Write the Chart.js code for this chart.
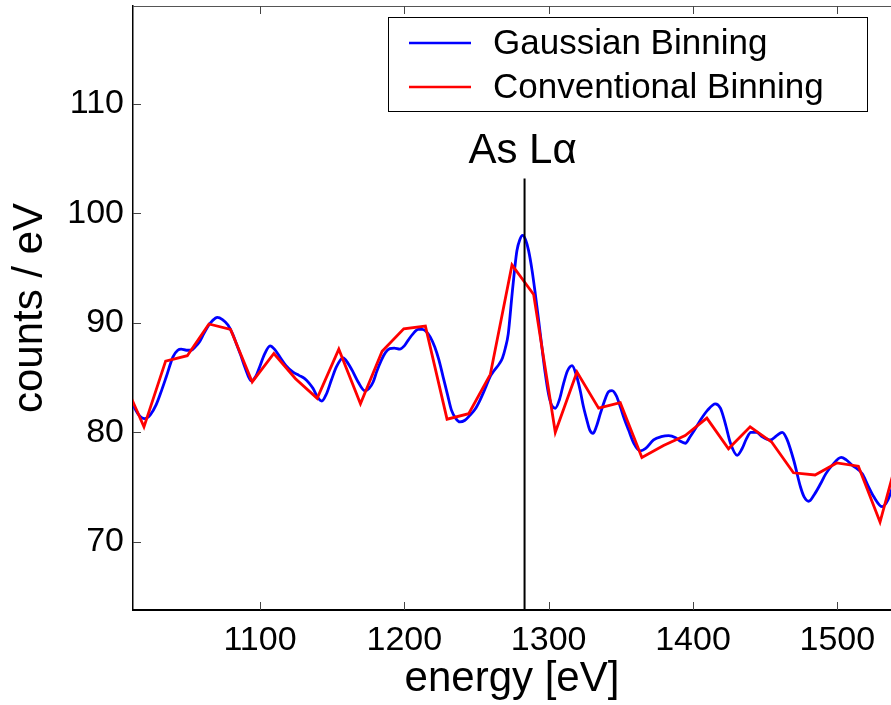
<!DOCTYPE html>
<html><head><meta charset="utf-8">
<script src="https://cdn.jsdelivr.net/npm/chart.js@4.4.0/dist/chart.umd.min.js"></script>
<style>html,body{margin:0;padding:0;background:#fff}#wrap{width:891px;height:705px;position:relative}</style>
</head><body><div id="wrap"><canvas id="c"></canvas></div>
<script>
const gaussEnergy = [1008,1012,1016,1020,1024,1028,1032,1035,1039.7,1043,1045.4,1049,1052.4,1055,1058,1061,1064,1067,1070.4,1074,1077.8,1081,1083.6,1086.5,1089.4,1094,1097,1099.8,1103,1107,1110,1113.7,1118,1122.9,1127,1131,1134,1136.8,1139.5,1142.8,1146,1149.4,1153,1157.6,1161,1164.5,1168,1172.6,1175.5,1178.4,1181,1184.1,1187,1189.9,1193,1196.9,1200,1202.6,1206,1209.6,1212.5,1215.3,1218,1221.1,1224,1226.9,1230,1232.7,1235.5,1238.5,1242,1245.4,1249,1252.3,1256,1259.3,1262,1266,1268,1270,1272,1274.5,1276.5,1278,1280,1281.9,1284,1286.1,1288.5,1290.7,1293,1295.3,1297.5,1299.9,1302,1304.6,1307.5,1310.3,1313,1316.2,1319,1321.9,1324,1326.5,1328.5,1330.7,1333,1335.8,1338.5,1341.5,1343.9,1347,1349.7,1352.5,1355.4,1359,1363.5,1367,1372.7,1378,1383.1,1388,1391,1394.7,1398,1401.5,1405.1,1410,1415.5,1419,1422.4,1426,1430.6,1434,1437,1440.1,1444,1448,1453.7,1458,1461.8,1465,1469.9,1474.5,1477,1480.2,1484,1488.4,1492,1496.5,1502.7,1506,1510.3,1517.3,1521,1525.3,1531.1,1535,1538,1542];
const gaussCounts = [83.5,82.5,81.6,81.25,81.6,82.5,83.9,85.05,86.9,87.5,87.6,87.5,87.5,87.8,88.25,89.0,89.7,90.2,90.5,90.3,89.8,89.0,88.1,87.1,86.0,84.7,85.1,86.0,87.1,87.9,87.6,86.9,86.1,85.5,85.2,84.9,84.5,84.0,83.3,82.86,83.5,84.75,86.0,86.8,86.3,85.5,84.6,83.8,84.0,84.6,85.6,86.6,87.3,87.65,87.7,87.6,87.9,88.4,89.0,89.4,89.4,89.2,88.7,87.8,86.6,85.05,83.4,82.0,81.3,80.95,81.1,81.55,82.1,82.9,84.0,85.05,85.6,86.3,86.8,87.7,89.0,92.4,95.0,96.6,97.6,98.0,97.6,96.6,94.8,92.7,90.3,87.8,85.5,83.5,82.5,82.2,83.0,84.45,85.6,86.1,85.3,83.8,82.4,81.1,80.2,79.9,80.5,81.7,82.8,83.7,83.8,83.3,82.3,81.2,80.2,79.0,78.3,78.5,79.3,79.6,79.7,79.5,79.2,79.0,79.6,80.3,81.1,82.0,82.6,82.2,80.8,79.0,77.9,78.5,79.4,80.0,80.0,79.6,79.3,79.7,80.0,79.4,77.4,75.0,74.1,73.7,74.3,75.3,76.2,77.0,77.7,77.5,77.0,76.2,75.2,74.1,73.2,73.8,74.9,76.5];
const convEnergy = [1004.6,1019.6,1034.6,1049.6,1064.6,1079.6,1094.6,1109.6,1124.6,1139.6,1154.6,1169.6,1184.6,1199.6,1214.6,1229.6,1244.6,1259.6,1274.6,1289.6,1304.6,1319.6,1334.6,1349.6,1364.6,1379.6,1394.6,1409.6,1424.6,1439.6,1454.6,1469.6,1484.6,1499.6,1514.6,1529.6,1544.6];
const convCounts = [85.0,80.5,86.5,87.0,89.9,89.4,84.6,87.2,84.9,83.1,87.6,82.6,87.4,89.45,89.7,81.2,81.7,85.3,95.3,92.6,80.0,85.5,82.2,82.7,77.7,78.8,79.7,81.3,78.5,80.5,79.1,76.3,76.1,77.2,76.9,71.8,79.1];
const lineEnergy = [1283.3, 1283.3];
const lineCounts = [103.2, 60];
const xTickValues = [1100,1200,1300,1400,1500];
const yTickValues = [70,80,90,100,110];
const seriesLabels = ['Gaussian Binning','Conventional Binning'];
const lineLabel = 'As L\u03b1';
const xTitle = 'energy [eV]';
const yTitle = 'counts / eV';

const FONT = '"Liberation Sans", Arial, Helvetica, sans-serif';
const toPts = (xs, ys) => xs.map((v, i) => ({x: v, y: ys[i]}));

const decor = {
  id: 'decor',
  afterDatasetsDraw(chart) {
    const {ctx, chartArea: a, scales: {x, y}} = chart;
    ctx.save();
    ctx.strokeStyle = '#555'; ctx.lineWidth = 1;
    ctx.beginPath(); ctx.moveTo(a.left, a.top + 0.5); ctx.lineTo(a.right, a.top + 0.5); ctx.stroke();
    ctx.strokeStyle = '#444';
    x.ticks.forEach(t => {
      const px = Math.round(x.getPixelForValue(t.value)) + 0.5;
      ctx.beginPath();
      ctx.moveTo(px, a.bottom); ctx.lineTo(px, a.bottom - 8);
      ctx.moveTo(px, a.top); ctx.lineTo(px, a.top + 8);
      ctx.stroke();
    });
    y.ticks.forEach(t => {
      const py = Math.round(y.getPixelForValue(t.value)) + 0.5;
      ctx.beginPath(); ctx.moveTo(a.left, py); ctx.lineTo(a.left + 8, py); ctx.stroke();
    });
    const lx = x.getPixelForValue(lineEnergy[0]);
    const ly = y.getPixelForValue(lineCounts[0]);
    ctx.fillStyle = '#000'; ctx.font = '42px ' + FONT;
    ctx.textAlign = 'center'; ctx.textBaseline = 'alphabetic';
    ctx.fillText(lineLabel, lx - 2, ly - 15);
    ctx.restore();
  },
  afterDraw(chart) {
    const {ctx, chartArea: a} = chart;
    const bx = a.left + 255, by = a.top + 11, bw = 479, bh = 94;
    ctx.save();
    ctx.fillStyle = '#fff'; ctx.fillRect(bx, by, bw, bh);
    ctx.strokeStyle = '#000'; ctx.lineWidth = 1;
    ctx.strokeRect(bx + 0.5, by + 0.5, bw, bh);
    ctx.font = '35px ' + FONT; ctx.textAlign = 'left'; ctx.textBaseline = 'middle';
    chart.data.datasets.slice(0, 2).forEach((ds, i) => {
      const yy = by + 26 + i * 44;
      ctx.strokeStyle = ds.borderColor; ctx.lineWidth = 2.5;
      ctx.beginPath(); ctx.moveTo(bx + 21, yy); ctx.lineTo(bx + 83, yy); ctx.stroke();
      ctx.fillStyle = '#000';
      ctx.fillText(ds.label, bx + 105, yy + 1);
    });
    ctx.restore();
  }
};

new Chart(document.getElementById('c'), {
  type: 'line',
  data: {
    datasets: [
      {label: seriesLabels[0], data: toPts(gaussEnergy, gaussCounts), borderColor: '#0000ff', borderWidth: 2.8, pointRadius: 0, cubicInterpolationMode: 'monotone', order: 2},
      {label: seriesLabels[1], data: toPts(convEnergy, convCounts), borderColor: '#ff0000', borderWidth: 2.8, pointRadius: 0, tension: 0, order: 1},
      {label: lineLabel, data: toPts(lineEnergy, lineCounts), borderColor: '#000', borderWidth: 2, pointRadius: 0, order: 0}
    ]
  },
  options: {
    responsive: true, maintainAspectRatio: false, animation: false,
    layout: {padding: {top: 6, right: 0, left: 0, bottom: 0}},
    plugins: {legend: {display: false}, tooltip: {enabled: false}},
    scales: {
      x: {
        type: 'linear', min: 1012, max: 1537.2,
        afterBuildTicks: s => { s.ticks = xTickValues.map(v => ({value: v})); },
        afterFit: s => { s.height = 95; s.paddingLeft = 0; s.paddingRight = 0; },
        grid: {display: true, drawOnChartArea: false, drawTicks: false},
        border: {display: true, color: '#000', width: 2},
        ticks: {color: '#000', padding: 10, font: {family: FONT, size: 34, lineHeight: 1.2}, maxRotation: 0, callback: v => String(v)},
        title: {display: true, text: xTitle, color: '#000', font: {family: FONT, size: 42, lineHeight: 1}, padding: {top: 0, bottom: 5}}
      },
      y: {
        type: 'linear', min: 63.76, max: 118.96,
        afterBuildTicks: s => { s.ticks = yTickValues.map(v => ({value: v})); },
        afterFit: s => { s.width = 133; s.paddingTop = 0; s.paddingBottom = 0; },
        grid: {display: true, drawOnChartArea: false, drawTicks: false},
        border: {display: true, color: '#000', width: 1.5},
        ticks: {color: '#000', padding: 9, font: {family: FONT, size: 34, lineHeight: 1.2}, callback: v => String(v)},
        title: {display: true, text: yTitle, color: '#000', font: {family: FONT, size: 42, lineHeight: 1}, padding: {top: 9, bottom: 0}}
      }
    }
  },
  plugins: [decor]
});
</script>
</body></html>
